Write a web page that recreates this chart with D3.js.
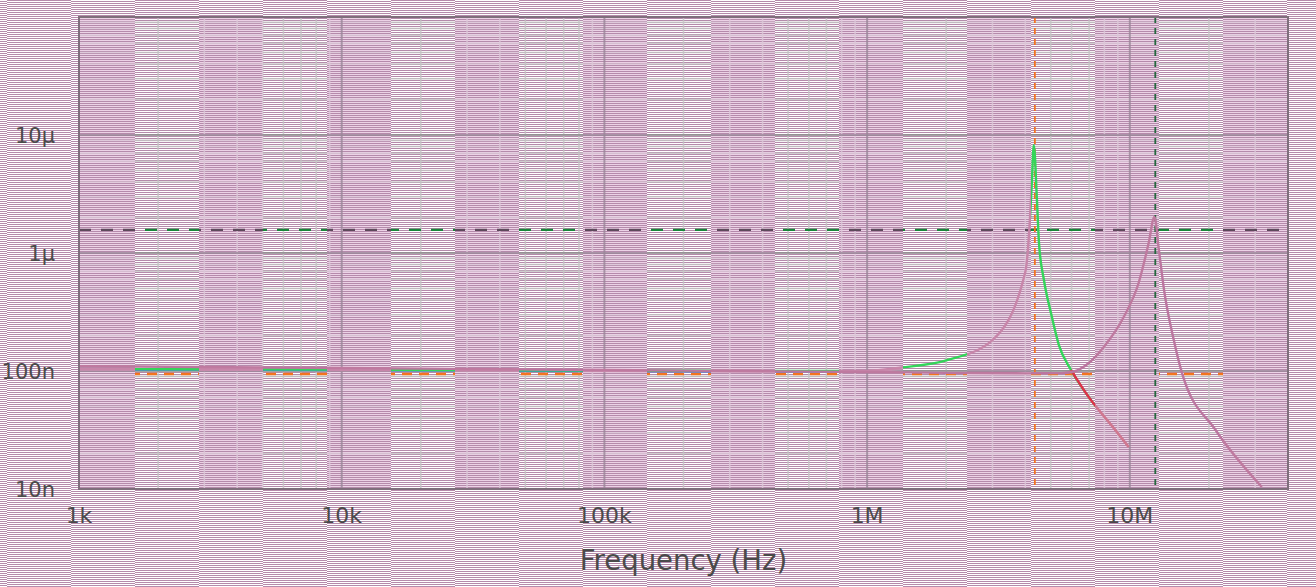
<!DOCTYPE html>
<html><head><meta charset="utf-8">
<script src="https://cdn.jsdelivr.net/npm/d3@7"></script>
<style>body{margin:0;background:#fff}svg{display:block}</style>
</head><body>
<svg id="c" width="1316" height="587"></svg>
<script>
// ---- data ----
const xTickValues = [1e3, 1e4, 1e5, 1e6, 1e7];
const xTickLabels = ["1k", "10k", "100k", "1M", "10M"];
const yTickValues = [1e-8, 1e-7, 1e-6, 1e-5];
const yTickLabels = ["10n", "100n", "1µ", "10µ"];

// green trace (resonance ~4.3 MHz)
const freqA = [1e3, 3e3, 1e4, 3e4, 1e5, 3e5, 1e6, 1.35e6, 2e6, 3e6, 4e6, 4.15e6, 4.24e6, 4.31e6, 4.43e6, 4.51e6, 4.71e6, 5.01e6, 5.37e6, 5.97e6, 6.98e6, 8.77e6, 9.9e6];
const valA  = [104e-9, 103.5e-9, 103e-9, 102e-9, 101e-9, 100.5e-9, 100e-9, 107e-9, 123e-9, 183e-9, 690e-9, 1.66e-6, 4.16e-6, 8.2e-6, 2.81e-6, 1.22e-6, 590e-9, 310e-9, 166e-9, 102e-9, 60e-9, 32e-9, 22.7e-9];
// red tail following the green trace above resonance
const freqR = [5.97e6, 6.98e6, 8.77e6, 9.9e6];
const valR  = [102e-9, 60e-9, 32e-9, 22.7e-9];
// blue trace at low frequency
const freqB = [1e3, 1e4, 1e5, 1e6, 1.35e6];
const valB  = [103e-9, 102e-9, 100e-9, 99e-9, 105e-9];
// mauve trace (resonance ~12.4 MHz)
const freqC = [1e3, 3e3, 1e4, 3e4, 1e5, 3e5, 1e6, 2e6, 4e6, 5.5e6, 6.12e6, 6.98e6, 7.96e6, 9.48e6, 10.8e6, 11.8e6, 12.4e6, 12.9e6, 13.5e6, 14.7e6, 15.8e6, 21.2e6, 31.8e6];
const valC  = [110e-9, 108e-9, 106e-9, 104e-9, 102e-9, 100e-9, 98e-9, 96.5e-9, 95.5e-9, 96e-9, 99e-9, 117e-9, 160e-9, 287e-9, 557e-9, 1.22e-6, 2.02e-6, 1.06e-6, 485e-9, 183e-9, 96e-9, 31.6e-9, 10.4e-9];

// markers
const markerLevelOrange = 94.4e-9;
const markerLevelGreen = 1.57e-6;
const markerFreqOrange = 4.35e6;
const markerFreqGreen = 12.5e6;

// ---- layout ----
const W = 1316, H = 587;
const pL = 79, pR = 1288, pT = 17, pB = 489;
const x = d3.scaleLog().domain([1e3, 4e7]).range([pL, pR]);
const y = d3.scaleLog().domain([1e-8, 1e-4]).range([pB, pT]);

const svg = d3.select("#c");
const defs = svg.append("defs");

// 64px bands starting at x=7; alternate bands carry a pink-tinted copy of the plot
const bandW = 64, band0 = 7;
const bands = d3.range(-1, 21).map(k => ({k, x0: band0 + k * bandW, odd: ((k % 2) + 2) % 2 === 1}));
["clipEven", "clipOdd"].forEach(name => {
  const cp = defs.append("clipPath").attr("id", name);
  bands.filter(b => b.odd === (name === "clipOdd")).forEach(b => {
    const x0 = Math.max(pL, b.x0), x1 = Math.min(pR, b.x0 + bandW);
    if (x1 > x0) cp.append("rect").attr("x", x0).attr("y", pT).attr("width", x1 - x0).attr("height", pB - pT);
  });
});

// background
svg.append("rect").attr("width", W).attr("height", H).attr("fill", "#fff");
svg.append("rect").attr("clip-path", "url(#clipOdd)")
  .attr("x", pL).attr("y", pT).attr("width", pR - pL).attr("height", pB - pT).attr("fill", "#ecd2e6");

// interlace stripes (one row every 2px, phase flips per band)
const stripes = svg.append("g").attr("shape-rendering", "crispEdges");
bands.forEach(b => {
  const rows = d3.range(b.odd ? 1 : 0, H, 2);
  stripes.selectAll(null).data(rows).join("rect")
    .attr("x", Math.max(0, b.x0)).attr("y", r => r)
    .attr("width", Math.min(W, b.x0 + bandW) - Math.max(0, b.x0)).attr("height", 1)
    .attr("fill", "#b58aab");
});

const xMinor = [], yMinor = [];
[1e3, 1e4, 1e5, 1e6, 1e7].forEach(d => d3.range(2, 10).forEach(m => { if (d * m <= 4e7) xMinor.push(d * m); }));
[1e-8, 1e-7, 1e-6, 1e-5].forEach(d => d3.range(2, 10).forEach(m => yMinor.push(d * m)));
const line = d3.line().x(d => x(d[0])).y(d => y(d[1])).curve(d3.curveMonotoneX);

function drawPlot(clipId, pal) {
  const g = svg.append("g").attr("clip-path", `url(#${clipId})`);
  g.selectAll(null).data(xMinor).join("line")
    .attr("x1", d => x(d)).attr("x2", d => x(d)).attr("y1", pT).attr("y2", pB)
    .attr("stroke", pal.minor).attr("stroke-opacity", 0.8).attr("stroke-width", 1.6);
  g.selectAll(null).data(yMinor).join("line")
    .attr("y1", d => y(d)).attr("y2", d => y(d)).attr("x1", pL).attr("x2", pR)
    .attr("stroke", pal.minor).attr("stroke-opacity", 0.8).attr("stroke-width", 1.6);
  g.selectAll(null).data(xTickValues).join("line")
    .attr("x1", d => x(d)).attr("x2", d => x(d)).attr("y1", pT).attr("y2", pB)
    .attr("stroke", pal.major).attr("stroke-opacity", 0.8).attr("stroke-width", 2);
  g.selectAll(null).data(yTickValues).join("line")
    .attr("y1", d => y(d)).attr("y2", d => y(d)).attr("x1", pL).attr("x2", pR)
    .attr("stroke", pal.major).attr("stroke-opacity", 0.8).attr("stroke-width", 2);
  if (pal.orange) {
    g.append("line")
      .attr("x1", pL).attr("x2", pR).attr("y1", y(markerLevelOrange)).attr("y2", y(markerLevelOrange))
      .attr("stroke", pal.orange).attr("stroke-width", 2.4).attr("stroke-dasharray", "10,7");
  }
  g.append("line")
    .attr("x1", pL).attr("x2", pR).attr("y1", y(markerLevelGreen)).attr("y2", y(markerLevelGreen))
    .attr("stroke", pal.level).attr("stroke-width", 2.2).attr("stroke-dasharray", "12,10");
  g.append("line")
    .attr("x1", x(markerFreqOrange)).attr("x2", x(markerFreqOrange)).attr("y1", pT).attr("y2", pB)
    .attr("stroke", pal.vOrange).attr("stroke-width", 1.8).attr("stroke-dasharray", "6,5");
  g.append("line")
    .attr("x1", x(markerFreqGreen)).attr("x2", x(markerFreqGreen)).attr("y1", pT).attr("y2", pB)
    .attr("stroke", pal.vGreen).attr("stroke-width", 1.8).attr("stroke-dasharray", "6,5");
  const traces = [
    {f: freqB, v: valB, c: pal.b},
    {f: freqA, v: valA, c: pal.a},
    {f: freqR, v: valR, c: pal.r},
    {f: freqC, v: valC, c: pal.c}
  ];
  traces.forEach(t => g.append("path").datum(d3.zip(t.f, t.v))
    .attr("d", line).attr("fill", "none").attr("stroke", t.c).attr("stroke-width", 2.4));
}

drawPlot("clipEven", {minor: "#c4c4c4", major: "#8e8e8e", orange: "#f3741f", level: "#18873a",
  vOrange: "#f3741f", vGreen: "#24683e", b: "#3f7fe6", a: "#34d55a", r: "#e0304a", c: "#bc76a0"});
drawPlot("clipOdd", {minor: "#dcc8d8", major: "#9a8698", orange: null, level: "#5e4a5c",
  vOrange: "#d08aa0", vGreen: "#24683e", b: "#c890b0", a: "#c886aa", r: "#d0788f", c: "#bf7aa0"});

// frame
svg.append("rect").attr("x", pL).attr("y", pT).attr("width", pR - pL).attr("height", pB - pT)
  .attr("fill", "none").attr("stroke", "#7f6f7c").attr("stroke-width", 2);

// labels
const font = "DejaVu Sans, sans-serif";
svg.selectAll(null).data(xTickValues).join("text")
  .attr("x", d => x(d)).attr("y", 523).attr("text-anchor", "middle")
  .attr("font-family", font).attr("font-size", 22).attr("fill", "#4a4a4a")
  .text((d, i) => xTickLabels[i]);
svg.selectAll(null).data(yTickValues).join("text")
  .attr("x", 55).attr("y", d => y(d) + 8).attr("text-anchor", "end")
  .attr("font-family", font).attr("font-size", 21).attr("fill", "#4a4a4a")
  .text((d, i) => yTickLabels[i]);
svg.append("text").attr("x", (pL + pR) / 2).attr("y", 570).attr("text-anchor", "middle")
  .attr("font-family", font).attr("font-size", 27.5).attr("fill", "#4a4a4a")
  .text("Frequency (Hz)");
</script>
</body></html>
